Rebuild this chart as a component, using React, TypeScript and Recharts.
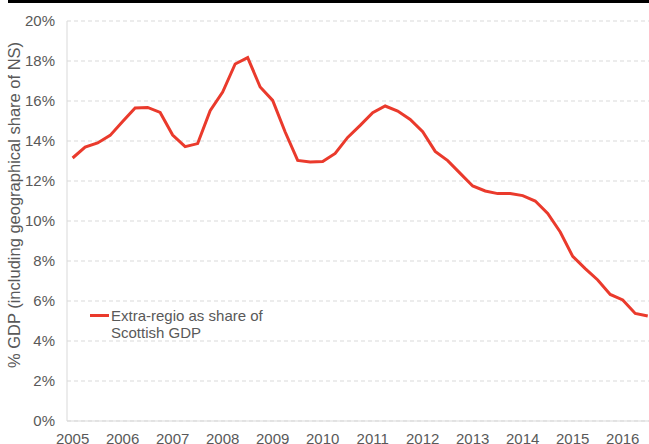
import React from 'react';
import { LineChart, Line, XAxis, YAxis, CartesianGrid, Legend } from 'recharts';

const yearLabels = ['2005', '2006', '2007', '2008', '2009', '2010', '2011', '2012', '2013', '2014', '2015', '2016'];
const yTicks = [0, 2, 4, 6, 8, 10, 12, 14, 16, 18, 20];
// Quarterly, 2005 Q1 .. 2016 Q3
const extraRegioShare = [
  13.15, 13.7, 13.9, 14.28, 14.98, 15.65, 15.68, 15.43, 14.3, 13.72, 13.87, 15.52,
  16.45, 17.85, 18.17, 16.7, 16.03, 14.45, 13.03, 12.95, 12.98, 13.38, 14.18, 14.78,
  15.42, 15.75, 15.5, 15.08, 14.47, 13.48, 13.02, 12.38, 11.75, 11.5, 11.37, 11.37,
  11.27, 11.0, 10.38, 9.45, 8.23, 7.62, 7.05, 6.33, 6.05, 5.38, 5.25,
];
const seriesName = 'Extra-regio as share of Scottish GDP';
const yTitle = '% GDP (including geographical share of NS)';

const data = extraRegioShare.map((v, i) => ({ q: i, v }));
const xTicks = yearLabels.map((_, i) => i * 4);

const RED = '#EA3A2C';
const TEXT = '#595959';
const FONT = '"Liberation Sans", Arial, sans-serif';

const YTitle = (props: any) => {
  const vb = props.viewBox || { y: 21, height: 400 };
  const cx = 14;
  const cy = vb.y + vb.height / 2 - 16;
  return (
    <text
      x={cx}
      y={cy}
      transform={`rotate(-90 ${cx} ${cy})`}
      textAnchor="middle"
      dominantBaseline="central"
      fill={TEXT}
      fontSize={16.5}
      fontFamily={FONT}
    >
      {yTitle}
    </text>
  );
};

const LegendContent = () => (
  <div style={{ display: 'flex', alignItems: 'flex-start', fontSize: 15, color: TEXT, lineHeight: '17px', fontFamily: FONT }}>
    <span style={{ display: 'inline-block', width: 19, height: 3, background: RED, marginTop: 7 }} />
    <span style={{ marginLeft: 2, whiteSpace: 'nowrap' }}>
      Extra-regio as share of
      <br />
      Scottish GDP
    </span>
  </div>
);

export default function App() {
  return (
    <div style={{ position: 'absolute', left: 0, top: 0, width: 649, height: 444, background: '#fff', fontFamily: FONT }}>
      <div style={{ position: 'absolute', left: 8, top: 0, right: 0, height: 3, background: '#000' }} />
      <LineChart width={649} height={444} data={data} margin={{ top: 21, right: 0, bottom: 0, left: 0 }}>
        <CartesianGrid vertical={false} stroke="#D9D9D9" strokeDasharray="4 3" />
        <XAxis
          dataKey="q"
          type="number"
          domain={[-0.45, 46.1]}
          allowDataOverflow
          ticks={xTicks}
          interval={0}
          tickFormatter={(v: number) => yearLabels[Math.round(v / 4)]}
          axisLine={{ stroke: '#D9D9D9' }}
          tickLine={false}
          tickMargin={6}
          height={23}
          tick={{ fill: TEXT, fontSize: 15, fontFamily: FONT }}
        />
        <YAxis
          type="number"
          domain={[0, 20]}
          ticks={yTicks}
          interval={0}
          tickFormatter={(v: number) => `${v}%`}
          axisLine={{ stroke: '#D9D9D9' }}
          tickLine={false}
          tickMargin={6}
          width={67}
          tick={{ fill: TEXT, fontSize: 15, fontFamily: FONT }}
          label={<YTitle />}
        />
        <Legend
          layout="vertical"
          align="center"
          verticalAlign="middle"
          wrapperStyle={{ left: 90, top: 307, width: 220 }}
          content={<LegendContent />}
        />
        <Line
          type="linear"
          dataKey="v"
          name={seriesName}
          stroke={RED}
          strokeWidth={3}
          dot={false}
          activeDot={false}
          isAnimationActive={false}
        />
      </LineChart>
    </div>
  );
}
